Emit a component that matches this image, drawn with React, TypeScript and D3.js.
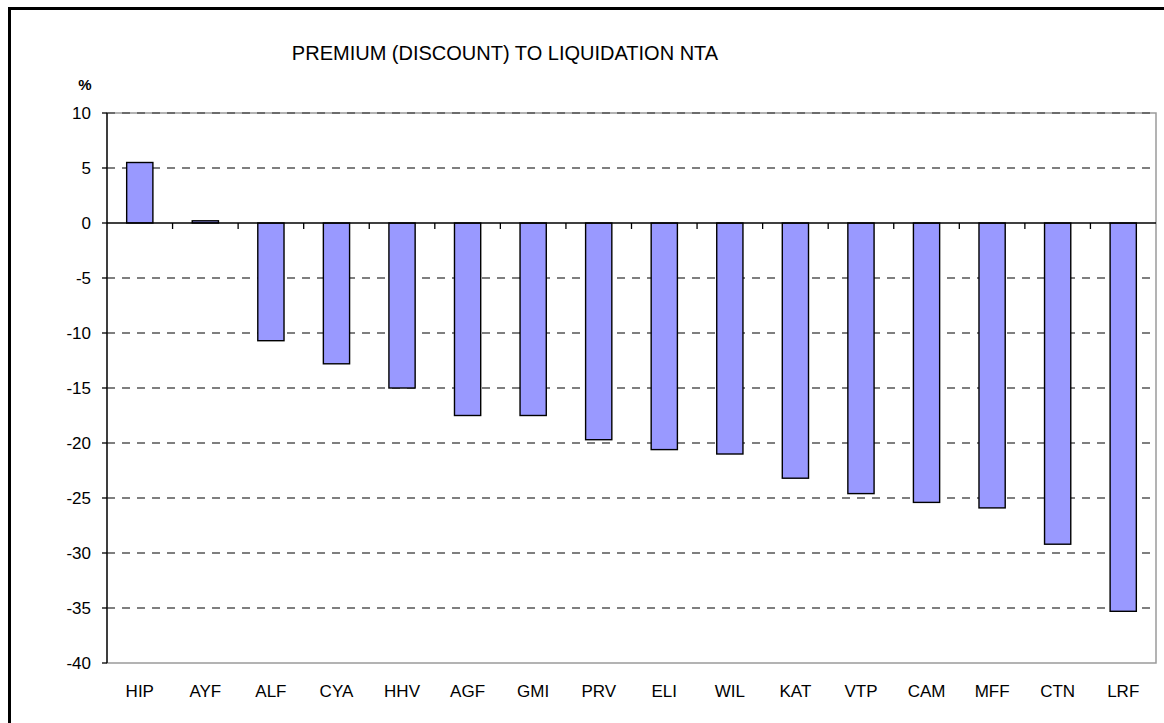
import * as d3 from "d3";

const WIDTH = 1164;
const HEIGHT = 723;

const categories = ["HIP", "AYF", "ALF", "CYA", "HHV", "AGF", "GMI", "PRV", "ELI", "WIL", "KAT", "VTP", "CAM", "MFF", "CTN", "LRF"];
const premiums = [5.5, 0.2, -10.7, -12.8, -15.0, -17.5, -17.5, -19.7, -20.6, -21.0, -23.2, -24.6, -25.4, -25.9, -29.2, -35.3];
const yTicks = [10, 5, 0, -5, -10, -15, -20, -25, -30, -35, -40];

const TITLE = "PREMIUM (DISCOUNT) TO LIQUIDATION NTA";
const FONT = "'Liberation Sans', Arial, sans-serif";

// plot area box
const left = 107;
const right = 1156;
const top = 113;
const bottom = 663;

export default function App() {
  const x = d3.scaleBand<string>()
    .domain(categories)
    .range([left, right])
    .paddingInner(0.6)
    .paddingOuter(0.3);

  const y = d3.scaleLinear().domain([-40, 10]).range([bottom, top]);
  const step = x.step();
  const y0 = y(0);

  return (
    <svg
      width={WIDTH}
      height={HEIGHT}
      style={{ position: "absolute", left: 0, top: 0, background: "#fff" }}
      fontFamily={FONT}
    >
      {/* chart border, cut off on right/bottom */}
      <rect x={9.5} y={8.5} width={WIDTH + 20} height={HEIGHT + 20} fill="none" stroke="#000" strokeWidth={3} />

      <text x={505} y={60} textAnchor="middle" fontSize={20} fill="#000">{TITLE}</text>
      <text x={85} y={90} textAnchor="middle" fontSize={15} fontWeight="bold" fill="#000">%</text>

      {/* plot border */}
      <rect x={left} y={top} width={right - left} height={bottom - top} fill="none" stroke="#9a9a9a" strokeWidth={1.5} />

      {/* gridlines */}
      {yTicks.filter((t) => t !== 0 && t !== -40).map((t) => (
        <line key={t} x1={left} x2={right} y1={y(t)} y2={y(t)} stroke="#555" strokeWidth={1.3} strokeDasharray="8,7" />
      ))}

      {/* y axis */}
      <line x1={left} x2={left} y1={top} y2={bottom} stroke="#000" strokeWidth={1.3} />
      {yTicks.map((t) => (
        <g key={t}>
          <line x1={left - 5} x2={left} y1={y(t)} y2={y(t)} stroke="#000" strokeWidth={1.3} />
          <text x={91} y={y(t)} dy="0.36em" textAnchor="end" fontSize={17} fill="#000">{t}</text>
        </g>
      ))}

      {/* bars */}
      {premiums.map((v, i) => (
        <rect
          key={categories[i]}
          x={x(categories[i])}
          y={Math.min(y(v), y0)}
          width={x.bandwidth()}
          height={Math.abs(y(v) - y0)}
          fill="#9999ff"
          stroke="#000"
          strokeWidth={1.4}
        />
      ))}

      {/* zero axis + category ticks */}
      <line x1={left} x2={right} y1={y0} y2={y0} stroke="#000" strokeWidth={1.3} />
      {d3.range(1, categories.length).map((i) => (
        <line key={i} x1={left + i * step} x2={left + i * step} y1={y0} y2={y0 + 6} stroke="#000" strokeWidth={1.3} />
      ))}

      {categories.map((c) => (
        <text key={c} x={(x(c) ?? 0) + x.bandwidth() / 2} y={697} textAnchor="middle" fontSize={17} fill="#000">{c}</text>
      ))}
    </svg>
  );
}
